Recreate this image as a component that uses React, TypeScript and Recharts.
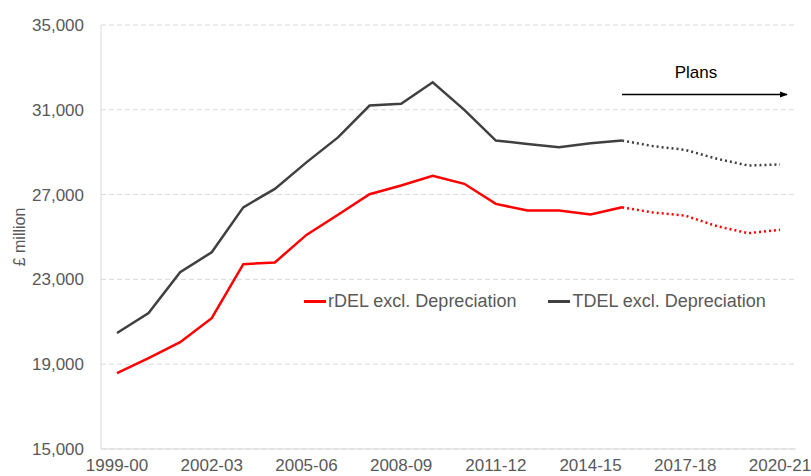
import { LineChart, Line, XAxis, YAxis, CartesianGrid, Legend } from 'recharts';

const years = [
  '1999-00', '2000-01', '2001-02', '2002-03', '2003-04', '2004-05', '2005-06', '2006-07',
  '2007-08', '2008-09', '2009-10', '2010-11', '2011-12', '2012-13', '2013-14', '2014-15',
  '2015-16', '2016-17', '2017-18', '2018-19', '2019-20', '2020-21',
];

// £ million
const rdel = [
  18580, 19290, 20040, 21170, 23720, 23800, 25100, 26050,
  27020, 27430, 27890, 27510, 26560, 26250, 26250, 26060,
  26400, 26150, 26010, 25510, 25180, 25340,
];
const tdel = [
  20470, 21410, 23340, 24280, 26400, 27270, 28520, 29700,
  31200, 31280, 32300, 31000, 29550, 29390, 29230, 29420,
  29550, 29280, 29110, 28690, 28370, 28420,
];

const lastOutturn = '2015-16';
const yTicks = [15000, 19000, 23000, 27000, 31000, 35000];
const legendOrder = ['rDEL excl. Depreciation', 'TDEL excl. Depreciation'];

const FONT = '"Liberation Sans", Arial, sans-serif';
const GREY = '#595959';
const RED = '#ff0000';
const DARK = '#404040';

const cut = years.indexOf(lastOutturn);
const data = years.map((year, i) => ({
  year,
  rdel: i <= cut ? rdel[i] : null,
  tdel: i <= cut ? tdel[i] : null,
  rdelPlan: i >= cut ? rdel[i] : null,
  tdelPlan: i >= cut ? tdel[i] : null,
}));

function LegendContent(props: any) {
  const items = (props.payload || [])
    .filter((p: any) => p.type !== 'none')
    .sort((a: any, b: any) => legendOrder.indexOf(a.value) - legendOrder.indexOf(b.value));
  return (
    <div style={{ display: 'flex', alignItems: 'center', fontFamily: FONT, fontSize: 18, color: GREY, whiteSpace: 'nowrap' }}>
      {items.map((p: any, i: number) => (
        <div key={p.value} style={{ display: 'flex', alignItems: 'center', marginRight: i === 0 ? 32 : 0 }}>
          <span style={{ display: 'inline-block', width: 22, height: 3, background: p.color, marginRight: 2 }} />
          <span>{p.value}</span>
        </div>
      ))}
    </div>
  );
}

const yLabel = (props: any) => {
  const vb = props.viewBox || { x: 0, y: 0, height: 0 };
  const x = vb.x + 19;
  const y = vb.y + vb.height / 2;
  return (
    <text x={x} y={y} transform={`rotate(-90 ${x} ${y})`} textAnchor="middle" dominantBaseline="central"
      fontFamily={FONT} fontSize={16} fill={GREY}>
      £ million
    </text>
  );
};

export default function App() {
  return (
    <div style={{ position: 'absolute', left: 0, top: 0, width: 811, height: 476, background: '#fff', overflow: 'hidden' }}>
      <LineChart width={811} height={476} data={data} margin={{ top: 25, right: 15, bottom: 0, left: 0 }}>
        <CartesianGrid vertical={false} stroke="#d9d9d9" strokeDasharray="5 3" />
        <XAxis
          dataKey="year"
          height={27}
          interval={2}
          padding={{ left: 16, right: 16 }}
          tick={{ fontSize: 17, fill: GREY, fontFamily: FONT }}
          tickLine={false}
          tickMargin={4}
          axisLine={{ stroke: '#d9d9d9' }}
        />
        <YAxis
          width={101}
          domain={[15000, 35000]}
          ticks={yTicks}
          tickFormatter={(v) => v.toLocaleString('en-GB')}
          tick={{ fontSize: 17, fill: GREY, fontFamily: FONT }}
          tickLine={false}
          tickMargin={11}
          axisLine={{ stroke: '#d9d9d9' }}
          label={yLabel}
        />
        <Legend
          verticalAlign="middle"
          layout="horizontal"
          content={<LegendContent />}
          wrapperStyle={{ left: 304, top: 291, width: 'auto' }}
        />
        <Line type="linear" dataKey="rdel" name="rDEL excl. Depreciation" stroke={RED} strokeWidth={2.5} dot={false} isAnimationActive={false} />
        <Line type="linear" dataKey="tdel" name="TDEL excl. Depreciation" stroke={DARK} strokeWidth={2.5} dot={false} isAnimationActive={false} />
        <Line type="linear" dataKey="rdelPlan" stroke={RED} strokeWidth={2.5} strokeDasharray="2 3" dot={false} legendType="none" isAnimationActive={false} />
        <Line type="linear" dataKey="tdelPlan" stroke={DARK} strokeWidth={2.5} strokeDasharray="2 3" dot={false} legendType="none" isAnimationActive={false} />
      </LineChart>
      <svg width={811} height={476} style={{ position: 'absolute', left: 0, top: 0, pointerEvents: 'none' }}>
        <defs>
          <marker id="arrowHead" markerWidth="8" markerHeight="8" refX="7" refY="4" orient="auto" markerUnits="userSpaceOnUse">
            <path d="M0,1 L8,4 L0,7 Z" fill="#000" />
          </marker>
        </defs>
        <text x={696} y={72} textAnchor="middle" dominantBaseline="central" fontFamily={FONT} fontSize={17} fill="#000">Plans</text>
        <line x1={622} y1={94.5} x2={787} y2={94.5} stroke="#000" strokeWidth={1.5} markerEnd="url(#arrowHead)" />
      </svg>
    </div>
  );
}
